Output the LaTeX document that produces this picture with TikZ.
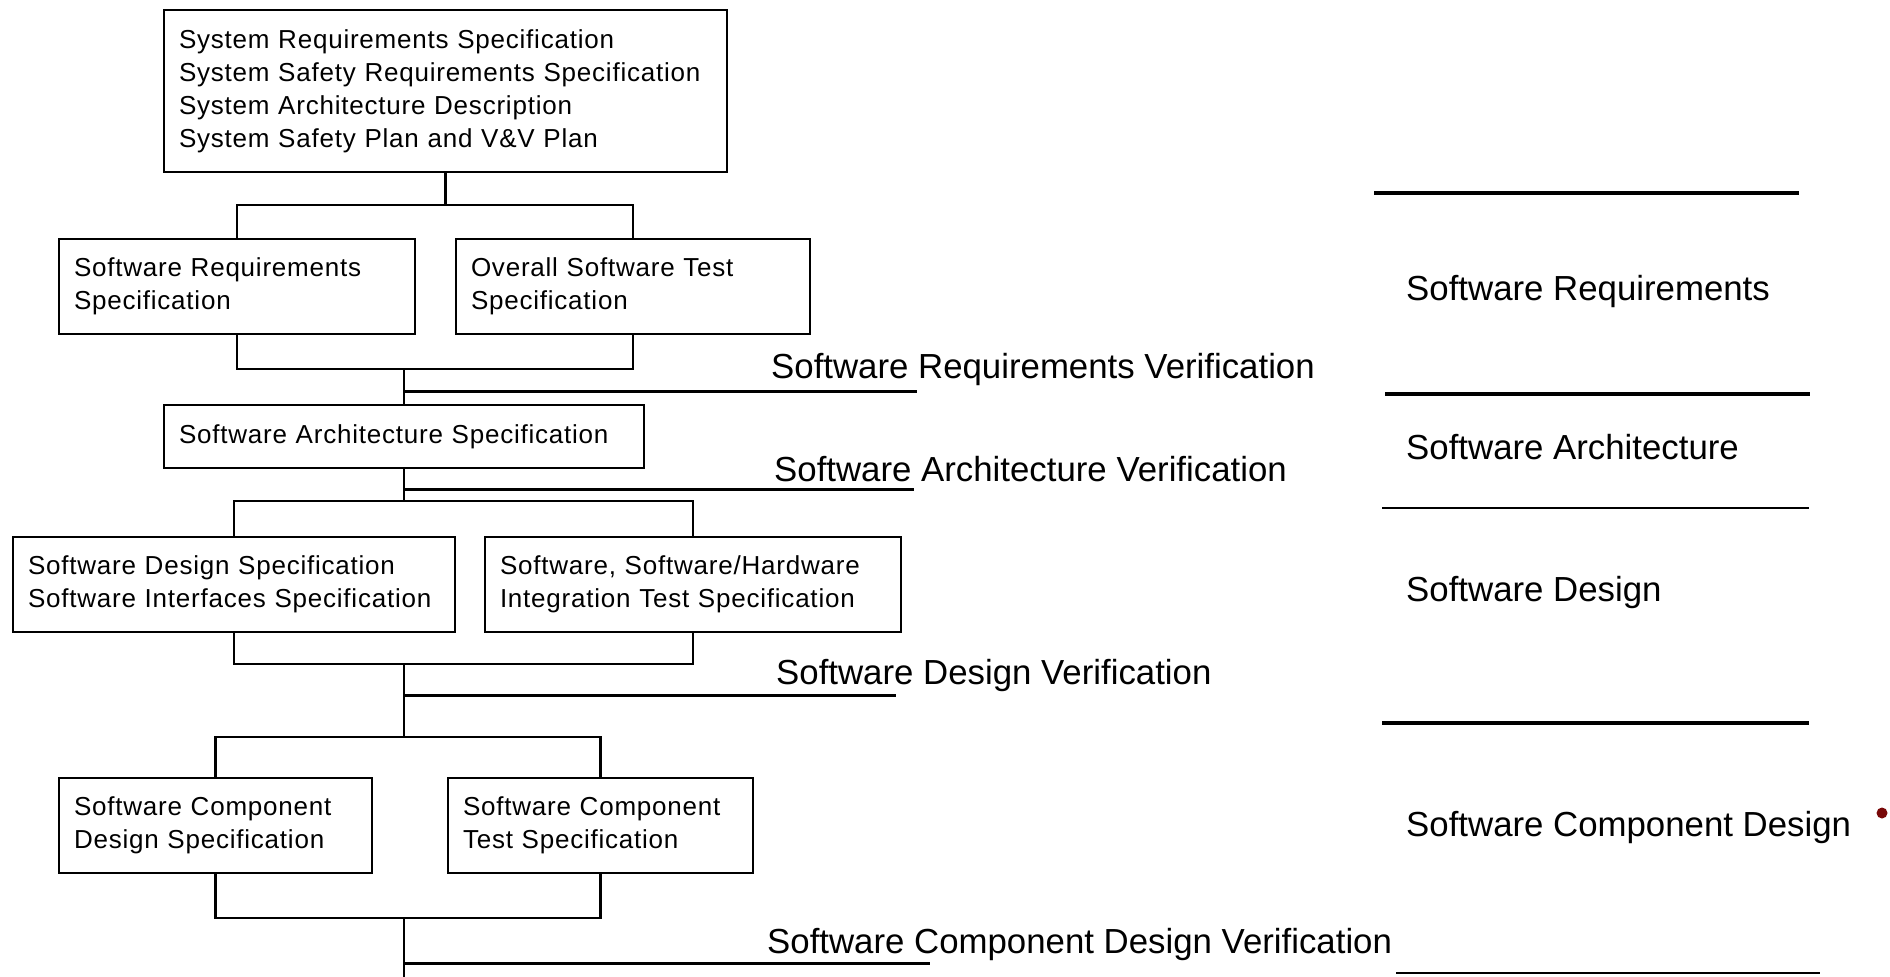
\documentclass[tikz,border=0pt]{standalone}
\usepackage{fontspec}
\setmainfont{Liberation Sans}
\newfontfamily\boxfont[LetterSpace=3]{Liberation Sans}
\definecolor{bulletred}{RGB}{120,8,8}
\begin{document}
\begin{tikzpicture}[x=1pt,y=-1pt,
  docbox/.style={draw, line width=2.6pt, inner xsep=15pt, inner ysep=0pt,
    align=left, font=\boxfont\fontsize{26}{33}\selectfont},
  conn/.style={line width=2.4pt},
  verif/.style={line width=3pt},
  lab/.style={anchor=west, inner sep=0pt, font=\fontsize{34.8}{40}\selectfont},
  septhick/.style={line width=3.2pt},
  septhin/.style={line width=2pt}
]
\useasboundingbox (0,0) rectangle (1890,977);

% document boxes
\node[docbox, text width=533pt, minimum height=162pt] (sys) at (445.5,91)
  {System Requirements Specification\\System Safety Requirements Specification\\System Architecture Description\\System Safety Plan and V\&V Plan};
\node[docbox, text width=326pt, minimum height=95pt] (srs) at (237,286.5)
  {Software Requirements\\Specification};
\node[docbox, text width=324pt, minimum height=95pt] (ost) at (633,286.5)
  {Overall Software Test\\Specification};
\node[docbox, text width=450pt, minimum height=63pt] (sas) at (404,436.5)
  {Software Architecture Specification};
\node[docbox, text width=412pt, minimum height=95pt] (sds) at (234,584.5)
  {Software Design Specification\\Software Interfaces Specification};
\node[docbox, text width=386pt, minimum height=95pt] (sit) at (693,584.5)
  {Software, Software/Hardware\\Integration Test Specification};
\node[docbox, text width=283pt, minimum height=95pt] (scd) at (215.5,825.5)
  {Software Component\\Design Specification};
\node[docbox, text width=275pt, minimum height=95pt] (sct) at (600.5,825.5)
  {Software Component\\Test Specification};

% bus levels
\coordinate (s1) at (445.5,205);
\coordinate (j1) at (0,369);
\coordinate (s2) at (0,501);
\coordinate (j2) at (0,664);
\coordinate (s3) at (0,737);
\coordinate (j3) at (0,918);
\coordinate (tail) at (404,977);

% splits and joins
\draw[conn] (sys.south) -- (s1);
\draw[conn] (srs.north) |- (s1) -| (ost.north);
\draw[conn] (srs.south) |- (ost.south |- j1) -- (ost.south);
\draw[conn] (sas.north |- j1) -- (sas.north);
\draw[conn] (sas.south) -- (sas.south |- s2);
\draw[conn] (sds.north) |- (sit.north |- s2) -- (sit.north);
\draw[conn] (sds.south) |- (sit.south |- j2) -- (sit.south);
\draw[conn] (sas.south |- j2) -- (sas.south |- s3);
\draw[conn] (scd.north) |- (sct.north |- s3) -- (sct.north);
\draw[conn] (scd.south) |- (sct.south |- j3) -- (sct.south);
\draw[conn] (sas.south |- j3) -- (tail);

% verification branches
\coordinate (v1) at (917,391);
\coordinate (v2) at (914,489);
\coordinate (v3) at (896,695);
\coordinate (v4) at (930,963);
\draw[verif] (v1 -| sas.north) -- (v1);
\draw[verif] (v2 -| sas.north) -- (v2);
\draw[verif] (v3 -| sas.north) -- (v3);
\draw[verif] (v4 -| sas.north) -- (v4);

\node[lab] (lv1) at (771,369) {Software Requirements Verification};
\node[lab] (lv2) at (774,469) {Software Architecture Verification};
\node[lab] (lv3) at (776,675) {Software Design Verification};
\node[lab] (lv4) at (767,944) {Software Component Design Verification};

% phase column
\coordinate (r1a) at (1374,193); \coordinate (r1b) at (1799,193);
\coordinate (r2a) at (1385,394); \coordinate (r2b) at (1810,394);
\coordinate (r3a) at (1382,508); \coordinate (r3b) at (1809,508);
\coordinate (r4a) at (1382,723); \coordinate (r4b) at (1809,723);
\coordinate (r5a) at (1396,973); \coordinate (r5b) at (1820,973);
\draw[septhick] (r1a) -- (r1b);
\draw[septhick] (r2a) -- (r2b);
\draw[septhin] (r3a) -- (r3b);
\draw[septhick] (r4a) -- (r4b);
\draw[septhin] (r5a) -- (r5b);

\node[lab] (p1) at (1406,291) {Software Requirements};
\node[lab] (p2) at (1406,447) {Software Architecture};
\node[lab] (p3) at (1406,592) {Software Design};
\node[lab] (p4) at (1406,827) {Software Component Design};

\node[circle, fill=bulletred, minimum size=11pt, inner sep=0pt] (dot) at (1882,813) {};
\end{tikzpicture}
\end{document}
